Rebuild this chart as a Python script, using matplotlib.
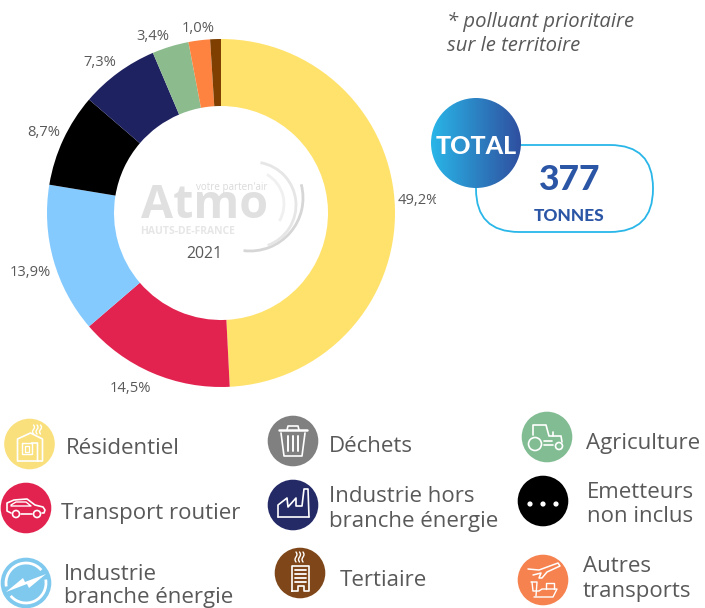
import numpy as np
import matplotlib
matplotlib.use("Agg")
import matplotlib.pyplot as plt
from matplotlib.patches import Circle, FancyBboxPatch, Rectangle, Arc, Polygon

# ---- data ----
sectors = ["Résidentiel", "Transport routier", "Industrie branche énergie", "Emetteurs non inclus",
           "Industrie hors branche énergie", "Agriculture", "Autres transports", "Tertiaire"]
values = [49.2, 14.5, 13.9, 8.7, 7.3, 3.4, 2.0, 1.0]
colors = ["#FFE26B", "#E2234F", "#84CAFF", "#000000", "#1F2260", "#8CBB8E", "#FF8340", "#7F3F00"]
pct_labels = ["49,2%", "14,5%", "13,9%", "8,7%", "7,3%", "3,4%", None, "1,0%"]
pct_pos = [(418, 200), (130, 389), (30, 273), (44, 132), (100, 63), (153, 36), None, (198, 29)]
year = "2021"
total_value = "377"
total_unit = "TONNES"
note = ["* polluant prioritaire", "sur le territoire"]

W, H = 705, 608
TXT = "#595959"
FONT = "Open Sans"
plt.rcParams["font.family"] = [FONT, "DejaVu Sans"]
LEG = 16

fig = plt.figure(figsize=(W / 100, H / 100), dpi=100, facecolor="white")

# donut
cx, cy, R, r_in = 221, 213, 174, 107
axp = fig.add_axes([(cx - R) / W, 1 - (cy + R) / H, 2 * R / W, 2 * R / H])
axp.pie(values, colors=colors, startangle=90, counterclock=False, radius=1,
        wedgeprops=dict(width=(R - r_in) / R, linewidth=0))
axp.set_xlim(-1, 1); axp.set_ylim(-1, 1); axp.axis("off")

# overlay in pixel coordinates
ax = fig.add_axes([0, 0, 1, 1], facecolor="none")
ax.set_xlim(0, W); ax.set_ylim(H, 0); ax.axis("off")

for lab, pos in zip(pct_labels, pct_pos):
    if lab is None:
        continue
    t = ax.text(pos[0], pos[1], lab, ha="center", va="center", fontsize=10.6, color=TXT)
    if lab == "49,2%":
        t.set_clip_on(True)
        t.set_clip_path(Rectangle((390, 180), 46, 40, transform=ax.transData))

# logo, watermark
LG = "#E0E0E0"
ax.text(205, 206, "Atmo", ha="center", va="center", fontsize=33.5, fontweight="bold", color=LG)
ax.text(231.5, 187.5, "votre parten'air", ha="center", va="center", fontsize=7.1, color="#DADADA")
ax.text(187.5, 231, "HAUTS-DE-FRANCE", ha="center", va="center", fontsize=7.5, fontweight="bold", color="#E6E6E6")
for (c0, d, a1, a2, col, lw) in [((250, 198), 106, -15, 97, "#D6D6D6", 2),
                                 ((253, 205), 86, -80, 70, "#E6E6E6", 2),
                                 ((250, 204), 68, -60, 30, "#F0F0F0", 2)]:
    ax.add_patch(Arc(c0, d, d, theta1=a1, theta2=a2, color=col, lw=lw))
ax.text(204, 254, year, ha="center", va="center", fontsize=11.4, color=TXT)

# note
ax.text(447, 22, note[0], ha="left", va="center", fontsize=14.6, style="italic", color=TXT)
ax.text(447, 46, note[1], ha="left", va="center", fontsize=14.6, style="italic", color=TXT)

# total box
BL = "#29B6E8"
box = FancyBboxPatch((476 + 43, 145 + 43), 653 - 476 - 86, 232 - 145 - 86,
                     boxstyle="round,pad=43,rounding_size=43", fc="white", ec=BL, lw=1.3)
ax.add_patch(box)
grad = np.linspace(0, 1, 256).reshape(1, -1)
cmap = matplotlib.colors.LinearSegmentedColormap.from_list("g", ["#29B6E8", "#2F4F9F"])
im = ax.imshow(grad, extent=(431, 521, 188, 98), cmap=cmap, aspect="auto", zorder=3)
im.set_clip_path(Circle((476, 143), 45, transform=ax.transData))
ax.set_xlim(0, W); ax.set_ylim(H, 0)
ax.text(476, 146, "TOTAL", ha="center", va="center", fontsize=18, fontweight="black", family="Lato", color="white", zorder=4)
ax.text(570, 180, total_value, ha="center", va="center", fontsize=25.5, fontweight="black", family="Lato", color="#2B55A5")
ax.text(569, 216, total_unit, ha="center", va="center", fontsize=12.4, fontweight="black", family="Lato", color="#2B55A5")

# legend
def pl(c, pts, lw=1.2, closed=False, col="white"):
    xs = [c[0] + p[0] for p in pts]; ys = [c[1] + p[1] for p in pts]
    if closed:
        xs.append(xs[0]); ys.append(ys[0])
    ax.plot(xs, ys, color=col, lw=lw, solid_capstyle="round", solid_joinstyle="round", zorder=5)

def ring(c, dx, dy, r, lw=1.2, fc="none"):
    ax.add_patch(Circle((c[0] + dx, c[1] + dy), r, fc=fc, ec="white", lw=lw, zorder=5))

def steam(c, dx, dy, n=3, h=9):
    for i in range(n):
        y = np.linspace(0, h, 12)
        pl(c, list(zip(dx + i * 3.5 + 1.0 * np.sin(y / h * 2 * np.pi), dy + y)), lw=1)

def i_home(c):
    steam(c, 4, -19)
    pl(c, [(-12, 17), (-12, -5), (1, -11), (13, -5), (13, 17), (8, 17), (8, -1), (2, -1)])
    pl(c, [(-12, 17), (8, 17)])
    pl(c, [(-8, -1), (2, -1), (2, 10), (-8, 10)], closed=True, lw=1)
    pl(c, [(-5, 2), (-1, 2), (-1, 8), (-5, 8)], closed=True, lw=0.9)

def i_car(c):
    pl(c, [(-15, 5), (-19, 3), (-19, -5), (-12, -8), (1, -9), (9, -3), (17, -1), (19, 2), (18, 5), (16, 5)])
    pl(c, [(-5, 6), (6, 6)])
    pl(c, [(-15, -3), (-10, -6), (0, -6), (5, -2), (-15, -2)], lw=1)
    ring(c, -10, 6, 3.5); ring(c, 11, 6, 3.5)

def i_bolt(c):
    ax.add_patch(Arc(c, 40, 40, theta1=-10, theta2=140, color="white", lw=2, zorder=6))
    ax.add_patch(Arc(c, 40, 40, theta1=170, theta2=320, color="white", lw=2, zorder=6))
    ax.add_patch(Polygon([(c[0] - 20, c[1] + 9), (c[0] - 3, c[1] - 5), (c[0] - 1, c[1] - 1),
                          (c[0] + 20, c[1] - 9), (c[0] + 3, c[1] + 5), (c[0] + 1, c[1] + 1)],
                         fc="white", ec="none", zorder=6))

def i_trash(c):
    pl(c, [(-14, -11), (14, -11)], lw=1.8)
    pl(c, [(-6, -11), (-5, -15), (5, -15), (6, -11)])
    pl(c, [(-12, -8), (-9, 15), (9, 15), (12, -8)])
    for dx in (-5, 0, 5):
        pl(c, [(dx, -5), (dx, 10)], lw=1.4)

def i_factory(c):
    pl(c, [(-15, 12), (-15, 0), (-6, -7), (-5, 2), (3, -7), (3, 1), (9, 1), (11, -16), (15, -16), (16, 12)])
    pl(c, [(-15, 12), (16, 12)])

def i_office(c):
    steam(c, -4, -21, h=10)
    pl(c, [(-8, 18), (-8, -7), (9, -7), (9, 18), (4, 18), (4, 13), (-2, 13), (-2, 18)], closed=True)
    for dy in (-3, 1, 5, 9):
        pl(c, [(-5, dy), (6, dy)], lw=1.3)

def i_tractor(c):
    ring(c, -12, 7, 6.5); ring(c, 12, 9, 3.5)
    pl(c, [(-14, -2), (-14, -12), (-1, -12), (2, -1), (14, -1), (15, 5)])
    pl(c, [(-3, 4), (5, 4)]); pl(c, [(-3, 8), (6, 8)]); pl(c, [(6, -5), (6, -1)])

def i_dots(c):
    for dx in (-13, 0, 13):
        ax.add_patch(Circle((c[0] + dx, c[1] + 3), 2.6, fc="white", ec="none", zorder=5))

def i_plane(c):
    pl(c, [(-15, -11), (-4, -10), (15, -17), (17, -14), (4, -8), (-1, -2), (-4, -2), (-2, -7), (-10, -5)], lw=1.1)
    pl(c, [(-12, 2), (-6, 2), (-7, 16)], lw=1); pl(c, [(-11, 2), (-10, 11), (-4, 11), (-1, 9), (14, 9), (10, 17), (-9, 17)], lw=1)
    pl(c, [(3, 9), (3, 3), (11, 3), (11, 9)], lw=1)

legend = [
    ((29.5, 444), "#F9E07C", i_home, ["Résidentiel"], (66, 449), 0),
    ((26, 508), "#E2234F", i_car, ["Transport routier"], (61, 514), 0),
    ((26, 583), "#7FC8EE", i_bolt, ["Industrie", "branche énergie"], (64, 586), 12),
    ((293, 441), "#808080", i_trash, ["Déchets"], (329, 447), 0),
    ((293, 505), "#232A66", i_factory, ["Industrie hors", "branche énergie"], (329, 509), 12),
    ((300, 573), "#7F4719", i_office, ["Tertiaire"], (340, 580), 0),
    ((547, 437), "#82BC93", i_tractor, ["Agriculture"], (586, 443), 0),
    ((543, 501), "#000000", i_dots, ["Emetteurs", "non inclus"], (587, 504), 12),
    ((543, 580), "#F5824F", i_plane, ["Autres", "transports"], (583, 579), 12),
]
for c, col, fn, lines, pos, off in legend:
    ax.add_patch(Circle(c, 25.3, fc=col, ec="none", zorder=4))
    fn(c)
    if len(lines) == 1:
        ax.text(pos[0], pos[1], lines[0], ha="left", va="center", fontsize=LEG, color=TXT)
    else:
        ax.text(pos[0], pos[1] - off, lines[0], ha="left", va="center", fontsize=LEG, color=TXT)
        ax.text(pos[0], pos[1] + off, lines[1], ha="left", va="center", fontsize=LEG, color=TXT)

fig.savefig("out.png", dpi=100, facecolor="white")
